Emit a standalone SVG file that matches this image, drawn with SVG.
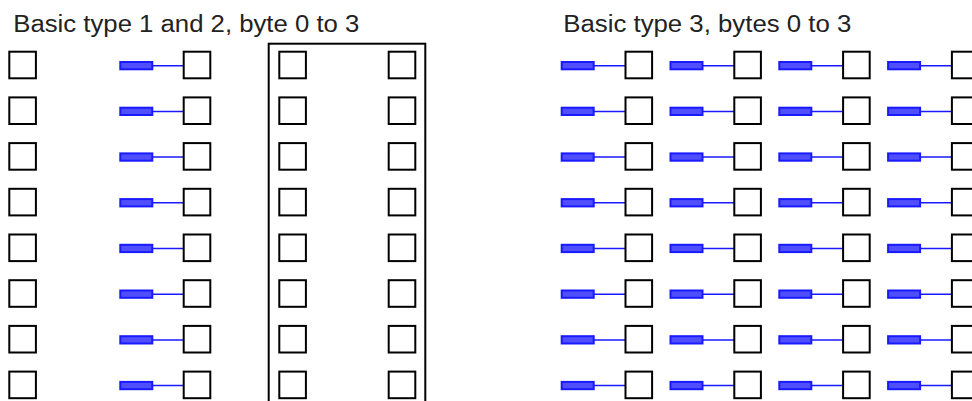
<svg xmlns="http://www.w3.org/2000/svg" xmlns:xlink="http://www.w3.org/1999/xlink" width="972" height="401" viewBox="0 0 972 401">
<style>
.sq{fill:#fff;stroke:#000;stroke-width:2}
.bar{fill:#4f4fff;stroke:#1a1aff;stroke-width:2}
.wire{fill:none;stroke:#1a1aff;stroke-width:1.5}
.frame{fill:none;stroke:#000;stroke-width:2}
.t{font-family:"Liberation Sans",Arial,sans-serif;font-size:23px;fill:#222}
</style>
<defs>
<rect id="sq" width="26.6" height="26.6" class="sq"/>
<rect id="bar" width="32" height="7.3" class="bar"/>
</defs>
<rect width="972" height="401" fill="#fff"/>
<text class="t" x="13.3" y="32.3" textLength="346" lengthAdjust="spacingAndGlyphs">Basic type 1 and 2, byte 0 to 3</text>
<text class="t" x="563.3" y="32.3" textLength="288" lengthAdjust="spacingAndGlyphs">Basic type 3, bytes 0 to 3</text>
<g id="frame"><rect class="frame" x="268.7" y="43.7" width="156.6" height="400"/></g>
<g id="connectors">
<path class="wire" d="M152.3 65.7H183.7M593.7 65.7H625.5M702.5 65.7H734.3M811.3 65.7H843.1M920.1 65.7H951.9
M152.3 111.4H183.7M593.7 111.4H625.5M702.5 111.4H734.3M811.3 111.4H843.1M920.1 111.4H951.9
M152.3 157.1H183.7M593.7 157.1H625.5M702.5 157.1H734.3M811.3 157.1H843.1M920.1 157.1H951.9
M152.3 202.8H183.7M593.7 202.8H625.5M702.5 202.8H734.3M811.3 202.8H843.1M920.1 202.8H951.9
M152.3 248.5H183.7M593.7 248.5H625.5M702.5 248.5H734.3M811.3 248.5H843.1M920.1 248.5H951.9
M152.3 294.2H183.7M593.7 294.2H625.5M702.5 294.2H734.3M811.3 294.2H843.1M920.1 294.2H951.9
M152.3 339.9H183.7M593.7 339.9H625.5M702.5 339.9H734.3M811.3 339.9H843.1M920.1 339.9H951.9
M152.3 385.6H183.7M593.7 385.6H625.5M702.5 385.6H734.3M811.3 385.6H843.1M920.1 385.6H951.9"/>
</g>
<g id="row0" transform="translate(0,0)">
<use href="#sq" x="9.3" y="51.7"/><use href="#bar" x="120.3" y="62"/><use href="#sq" x="183.7" y="51.7"/>
<use href="#sq" x="279.3" y="51.7"/><use href="#sq" x="388.7" y="51.7"/>
<use href="#bar" x="561.7" y="62"/><use href="#sq" x="625.5" y="51.7"/>
<use href="#bar" x="670.5" y="62"/><use href="#sq" x="734.3" y="51.7"/>
<use href="#bar" x="779.3" y="62"/><use href="#sq" x="843.1" y="51.7"/>
<use href="#bar" x="888.1" y="62"/><use href="#sq" x="951.9" y="51.7"/>
</g>
<g id="row1" transform="translate(0,45.7)">
<use href="#sq" x="9.3" y="51.7"/><use href="#bar" x="120.3" y="62"/><use href="#sq" x="183.7" y="51.7"/>
<use href="#sq" x="279.3" y="51.7"/><use href="#sq" x="388.7" y="51.7"/>
<use href="#bar" x="561.7" y="62"/><use href="#sq" x="625.5" y="51.7"/>
<use href="#bar" x="670.5" y="62"/><use href="#sq" x="734.3" y="51.7"/>
<use href="#bar" x="779.3" y="62"/><use href="#sq" x="843.1" y="51.7"/>
<use href="#bar" x="888.1" y="62"/><use href="#sq" x="951.9" y="51.7"/>
</g>
<g id="row2" transform="translate(0,91.4)">
<use href="#sq" x="9.3" y="51.7"/><use href="#bar" x="120.3" y="62"/><use href="#sq" x="183.7" y="51.7"/>
<use href="#sq" x="279.3" y="51.7"/><use href="#sq" x="388.7" y="51.7"/>
<use href="#bar" x="561.7" y="62"/><use href="#sq" x="625.5" y="51.7"/>
<use href="#bar" x="670.5" y="62"/><use href="#sq" x="734.3" y="51.7"/>
<use href="#bar" x="779.3" y="62"/><use href="#sq" x="843.1" y="51.7"/>
<use href="#bar" x="888.1" y="62"/><use href="#sq" x="951.9" y="51.7"/>
</g>
<g id="row3" transform="translate(0,137.1)">
<use href="#sq" x="9.3" y="51.7"/><use href="#bar" x="120.3" y="62"/><use href="#sq" x="183.7" y="51.7"/>
<use href="#sq" x="279.3" y="51.7"/><use href="#sq" x="388.7" y="51.7"/>
<use href="#bar" x="561.7" y="62"/><use href="#sq" x="625.5" y="51.7"/>
<use href="#bar" x="670.5" y="62"/><use href="#sq" x="734.3" y="51.7"/>
<use href="#bar" x="779.3" y="62"/><use href="#sq" x="843.1" y="51.7"/>
<use href="#bar" x="888.1" y="62"/><use href="#sq" x="951.9" y="51.7"/>
</g>
<g id="row4" transform="translate(0,182.8)">
<use href="#sq" x="9.3" y="51.7"/><use href="#bar" x="120.3" y="62"/><use href="#sq" x="183.7" y="51.7"/>
<use href="#sq" x="279.3" y="51.7"/><use href="#sq" x="388.7" y="51.7"/>
<use href="#bar" x="561.7" y="62"/><use href="#sq" x="625.5" y="51.7"/>
<use href="#bar" x="670.5" y="62"/><use href="#sq" x="734.3" y="51.7"/>
<use href="#bar" x="779.3" y="62"/><use href="#sq" x="843.1" y="51.7"/>
<use href="#bar" x="888.1" y="62"/><use href="#sq" x="951.9" y="51.7"/>
</g>
<g id="row5" transform="translate(0,228.5)">
<use href="#sq" x="9.3" y="51.7"/><use href="#bar" x="120.3" y="62"/><use href="#sq" x="183.7" y="51.7"/>
<use href="#sq" x="279.3" y="51.7"/><use href="#sq" x="388.7" y="51.7"/>
<use href="#bar" x="561.7" y="62"/><use href="#sq" x="625.5" y="51.7"/>
<use href="#bar" x="670.5" y="62"/><use href="#sq" x="734.3" y="51.7"/>
<use href="#bar" x="779.3" y="62"/><use href="#sq" x="843.1" y="51.7"/>
<use href="#bar" x="888.1" y="62"/><use href="#sq" x="951.9" y="51.7"/>
</g>
<g id="row6" transform="translate(0,274.2)">
<use href="#sq" x="9.3" y="51.7"/><use href="#bar" x="120.3" y="62"/><use href="#sq" x="183.7" y="51.7"/>
<use href="#sq" x="279.3" y="51.7"/><use href="#sq" x="388.7" y="51.7"/>
<use href="#bar" x="561.7" y="62"/><use href="#sq" x="625.5" y="51.7"/>
<use href="#bar" x="670.5" y="62"/><use href="#sq" x="734.3" y="51.7"/>
<use href="#bar" x="779.3" y="62"/><use href="#sq" x="843.1" y="51.7"/>
<use href="#bar" x="888.1" y="62"/><use href="#sq" x="951.9" y="51.7"/>
</g>
<g id="row7" transform="translate(0,319.9)">
<use href="#sq" x="9.3" y="51.7"/><use href="#bar" x="120.3" y="62"/><use href="#sq" x="183.7" y="51.7"/>
<use href="#sq" x="279.3" y="51.7"/><use href="#sq" x="388.7" y="51.7"/>
<use href="#bar" x="561.7" y="62"/><use href="#sq" x="625.5" y="51.7"/>
<use href="#bar" x="670.5" y="62"/><use href="#sq" x="734.3" y="51.7"/>
<use href="#bar" x="779.3" y="62"/><use href="#sq" x="843.1" y="51.7"/>
<use href="#bar" x="888.1" y="62"/><use href="#sq" x="951.9" y="51.7"/>
</g>
</svg>
